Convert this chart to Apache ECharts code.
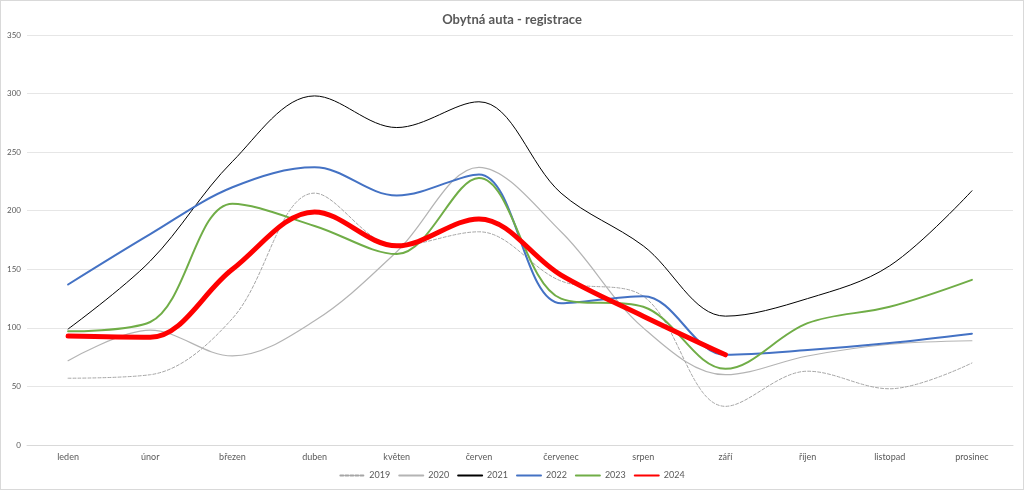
<!DOCTYPE html>
<html><head><meta charset="utf-8">
<script src="https://cdn.jsdelivr.net/npm/echarts@6/dist/echarts.min.js"></script>
<style>
html,body{margin:0;padding:0;background:#fff;}
#c{width:1022px;height:488px;border:1px solid #d9d9d9;}
</style></head>
<body><div id="c"></div>
<script>
const categories = ['leden','únor','březen','duben','květen','červen','červenec','srpen','září','říjen','listopad','prosinec'];
const s2019 = [57, 60, 108, 215, 170, 182, 140, 127, 33, 63, 48, 70];
const s2020 = [72, 98, 76, 106, 165, 237, 182, 100, 60, 76, 86, 89];
const s2021 = [99, 157, 242, 298, 271, 293, 215, 170, 110, 125, 153, 217];
const s2022 = [137, 180, 220, 237, 213, 231, 121, 127, 77, 81, 87, 95];
const s2023 = [97, 105, 206, 187, 163, 228, 125, 118, 65, 104, 118, 141];
const s2024 = [93, 92, 150, 199, 170, 193, 145, 110, 77];
const yTicks = {min: 0, max: 350, interval: 50};

const FONT = 'Lato';
const chart = echarts.init(document.getElementById('c'));
const mk = (name, data, color, width, type) => ({
  name, type: 'line', data, smooth: 0.35, showSymbol: false, symbol: 'none',
  lineStyle: {color, width, type: type || 'solid', cap: 'round'},
  itemStyle: {color}
});
chart.setOption({
  animation: false,
  textStyle: {fontFamily: FONT},
  title: {text: 'Obytná auta - registrace', left: 'center', top: 7,
    textStyle: {fontFamily: FONT, fontSize: 13, fontWeight: 'bold', color: '#595959'}},
  grid: {left: 26, right: 10, top: 34, bottom: 44},
  legend: {bottom: 4, left: 'center', itemWidth: 24, itemHeight: 6, itemGap: 8,
    itemStyle: {opacity: 0},
    textStyle: {fontFamily: FONT, fontSize: 9, color: '#595959'},
    data: ['2019','2020','2021','2022','2023','2024']},
  xAxis: {type: 'category', data: categories, boundaryGap: true,
    axisLine: {show: true, lineStyle: {color: '#d9d9d9'}}, axisTick: {show: false},
    axisLabel: {fontFamily: FONT, fontSize: 9, color: '#595959', margin: 8}},
  yAxis: {type: 'value', min: yTicks.min, max: yTicks.max, interval: yTicks.interval,
    axisLine: {show: false}, axisTick: {show: false},
    splitLine: {lineStyle: {color: '#e6e6e6', width: 1}},
    axisLabel: {fontFamily: FONT, fontSize: 8, color: '#595959', margin: 6}},
  series: [
    mk('2019', s2019, '#a5a5a5', 1, [3, 2]),
    mk('2020', s2020, '#b4b4b4', 1.2),
    mk('2021', s2021, '#000000', 1),
    mk('2022', s2022, '#4472C4', 2),
    mk('2023', s2023, '#70AD47', 2),
    mk('2024', s2024, '#FF0000', 5)
  ]
});
</script></body></html>
